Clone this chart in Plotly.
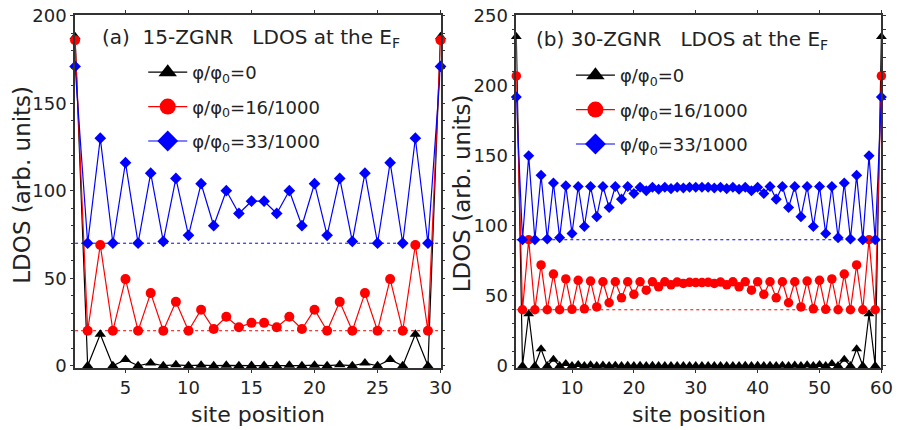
import plotly.graph_objects as go

# ---------------- data ----------------
sites_a = list(range(1, 31))
sites_b = list(range(1, 61))
labels = ["φ/φ<sub>0</sub>=0", "φ/φ<sub>0</sub>=16/1000", "φ/φ<sub>0</sub>=33/1000"]

# (a) 15-ZGNR (curves offset by 0, 20, 70)
a_black = [188, 0, 18, 0, 3.5, 0, 1.5, 0, 0.5, 0, 0.3, 0, 0.2, 0, 0.1,
           0.1, 0, 0.2, 0, 0.3, 0, 0.5, 0, 1.5, 0, 3.5, 0, 18, 0, 188]
a_red = [186, 20, 69, 20, 49.5, 20, 41.5, 20, 36.5, 20, 32, 21, 28, 22, 24.5,
         24.5, 22, 28, 21, 32, 20, 36.5, 20, 41.5, 20, 49.5, 20, 69, 20, 186]
a_blue = [171, 70, 130, 70, 116, 70, 110, 71, 107, 74.5, 104, 80, 100, 87, 94,
          94, 87, 100, 80, 104, 74.5, 107, 71, 110, 70, 116, 70, 130, 70, 171]
offsets_a = [0, 20, 70]

# (b) 30-ZGNR (curves offset by 0, 40, 90)
b_black = [235, 0, 37, 0, 12, 0, 4.5, 0, 1.5, 0, 0.8, 0, 0.5, 0, 0.3,
           0, 0.2, 0, 0.1, 0, 0.1, 0, 0.1, 0, 0, 0, 0, 0, 0, 0,
           0, 0, 0, 0, 0, 0, 0, 0.1, 0, 0.1, 0, 0.1, 0, 0.2, 0,
           0.3, 0, 0.5, 0, 0.8, 0, 1.5, 0, 4.5, 0, 12, 0, 37, 0, 235]
b_red = [207, 40, 90, 40, 72, 40, 65.5, 40, 62, 40.3, 61, 40.7, 60.5, 42, 60,
         45, 60, 48.5, 60, 51, 60, 54, 60, 56.4, 60, 57.8, 59.8, 58.8, 59.6, 59.4,
         59.4, 59.6, 58.8, 59.8, 57.8, 60, 56.4, 60, 54, 60, 51, 60, 48.5, 60, 45,
         60, 42, 60.5, 40.7, 61, 40.3, 62, 40, 65.5, 40, 72, 40, 90, 40, 207]
b_blue = [192, 90, 150, 90, 136, 90.5, 130.5, 91.5, 128.5, 94.5, 128, 99.5, 128, 106.5, 128,
          113, 128, 119, 128, 123, 127.5, 125, 127.5, 126, 127.5, 126.5, 127.5, 127, 127.5, 127.5,
          127.5, 127.5, 127, 127.5, 126.5, 127.5, 126, 127.5, 125, 127.5, 123, 128, 119, 128, 113,
          128, 106.5, 128, 99.5, 128, 94.5, 128, 91.5, 130.5, 90.5, 136, 90, 150, 90, 192]
offsets_b = [0, 40, 90]

xticks_a = [5, 10, 15, 20, 25, 30]
xticks_b = [10, 20, 30, 40, 50, 60]
yticks_a = [0, 50, 100, 150, 200]
yticks_b = [0, 50, 100, 150, 200, 250]

# ---------------- style ----------------
FONT = "DejaVu Sans"
colors = ["#000000", "#ff0000", "#0000ff"]
symbols = ["triangle-up", "circle", "diamond"]
sizes = [10, 10, 9]

W, H = 900, 430
ML, MR, MT, MB = 0, 0, 15, 62
PH = H - MT - MB


def px_x(px):
    return px / W


def px_y(py):
    return (H - MB - py) / PH


fig = go.Figure()

panels = [
    (sites_a, [a_black, a_red, a_blue], offsets_a, "x", "y", "legend"),
    (sites_b, [b_black, b_red, b_blue], offsets_b, "x2", "y2", "legend2"),
]

for sites, series, offs, xa, ya, lg in panels:
    # dotted baselines
    for k, off in enumerate(offs):
        if off == 0:
            continue
        fig.add_trace(go.Scatter(
            x=sites, y=[off] * len(sites), mode="lines",
            line=dict(color=colors[k], width=1, dash="dot"),
            xaxis=xa, yaxis=ya, showlegend=False, hoverinfo="skip"))
    for k, vals in enumerate(series):
        fig.add_trace(go.Scatter(
            x=sites, y=vals, mode="lines+markers",
            line=dict(color=colors[k], width=1.2),
            marker=dict(symbol=symbols[k], size=sizes[k] - (0.5 if xa == "x2" else 0),
                        color=colors[k]),
            cliponaxis=False, xaxis=xa, yaxis=ya, showlegend=False))
    # legend entries (bigger symbols, as in the original legend)
    for k in range(3):
        fig.add_trace(go.Scatter(
            x=[None], y=[None], mode="lines+markers", name=labels[k],
            line=dict(color=colors[k], width=1.2),
            marker=dict(symbol=symbols[k], size=16, color=colors[k]),
            xaxis=xa, yaxis=ya, legend=lg, legendgroup=f"{lg}{k}",
            showlegend=True))

axis_common = dict(
    showline=True, linecolor="#333", linewidth=1.5, mirror="ticks",
    ticks="outside", ticklen=3, tickwidth=1.2, tickcolor="#333",
    showgrid=False, zeroline=False,
    tickfont=dict(family=FONT, size=18, color="#222"),
)

legend_common = dict(
    xanchor="left", yanchor="top", bgcolor="rgba(0,0,0,0)",
    font=dict(family=FONT, size=18, color="#222"),
    itemwidth=39, traceorder="grouped", tracegroupgap=8,
)

fig.update_layout(
    width=W, height=H,
    margin=dict(l=ML, r=MR, t=MT, b=MB),
    paper_bgcolor="white", plot_bgcolor="white",
    font=dict(family=FONT, color="#222"),
    xaxis=dict(domain=[px_x(76), px_x(446)], range=[1, 30], tickvals=xticks_a,
               anchor="y", **axis_common),
    yaxis=dict(domain=[0, 1], range=[-1.3, 200.4], tickvals=yticks_a, anchor="x",
               minor=dict(tick0=0, dtick=10, ticks="outside", ticklen=2.5,
                          tickcolor="#333"),
               **axis_common),
    xaxis2=dict(domain=[px_x(522.7), px_x(892.3)], range=[1, 60], tickvals=xticks_b,
                anchor="y2", **axis_common),
    yaxis2=dict(domain=[0, 1], range=[-1.6, 250.5], tickvals=yticks_b, anchor="x2",
                minor=dict(tick0=0, dtick=10, ticks="outside", ticklen=2.5,
                           tickcolor="#333"),
                **axis_common),
    legend=dict(x=px_x(145), y=px_y(54), **legend_common),
    legend2=dict(x=px_x(578), y=px_y(57), **legend_common),
    showlegend=True,
)

ann = [
    dict(x=px_x(101), y=px_y(38), xanchor="left", yanchor="middle",
         text="(a)\u00a0\u00a015-ZGNR\u00a0\u00a0\u00a0LDOS at the E<sub>F</sub>",
         font=dict(family=FONT, size=20, color="#222")),
    dict(x=px_x(541), y=px_y(40), xanchor="left", yanchor="middle",
         text="(b) 30-ZGNR\u00a0\u00a0\u00a0LDOS at the E<sub>F</sub>",
         font=dict(family=FONT, size=20, color="#222")),
    dict(x=px_x(22), y=px_y(185), xanchor="center", yanchor="middle", textangle=-90,
         text="LDOS (arb. units)", font=dict(family=FONT, size=23, color="#222")),
    dict(x=px_x(468), y=px_y(193), xanchor="center", yanchor="middle", textangle=-90,
         text="LDOS (arb. units)", font=dict(family=FONT, size=23, color="#222")),
    dict(x=px_x(261), y=px_y(414), xanchor="center", yanchor="middle",
         text="site position", font=dict(family=FONT, size=22, color="#222")),
    dict(x=px_x(707.5), y=px_y(414), xanchor="center", yanchor="middle",
         text="site position", font=dict(family=FONT, size=22, color="#222")),
]
for a in ann:
    a.update(xref="paper", yref="paper", showarrow=False)
fig.update_layout(annotations=ann)

fig.write_html("out.html")
